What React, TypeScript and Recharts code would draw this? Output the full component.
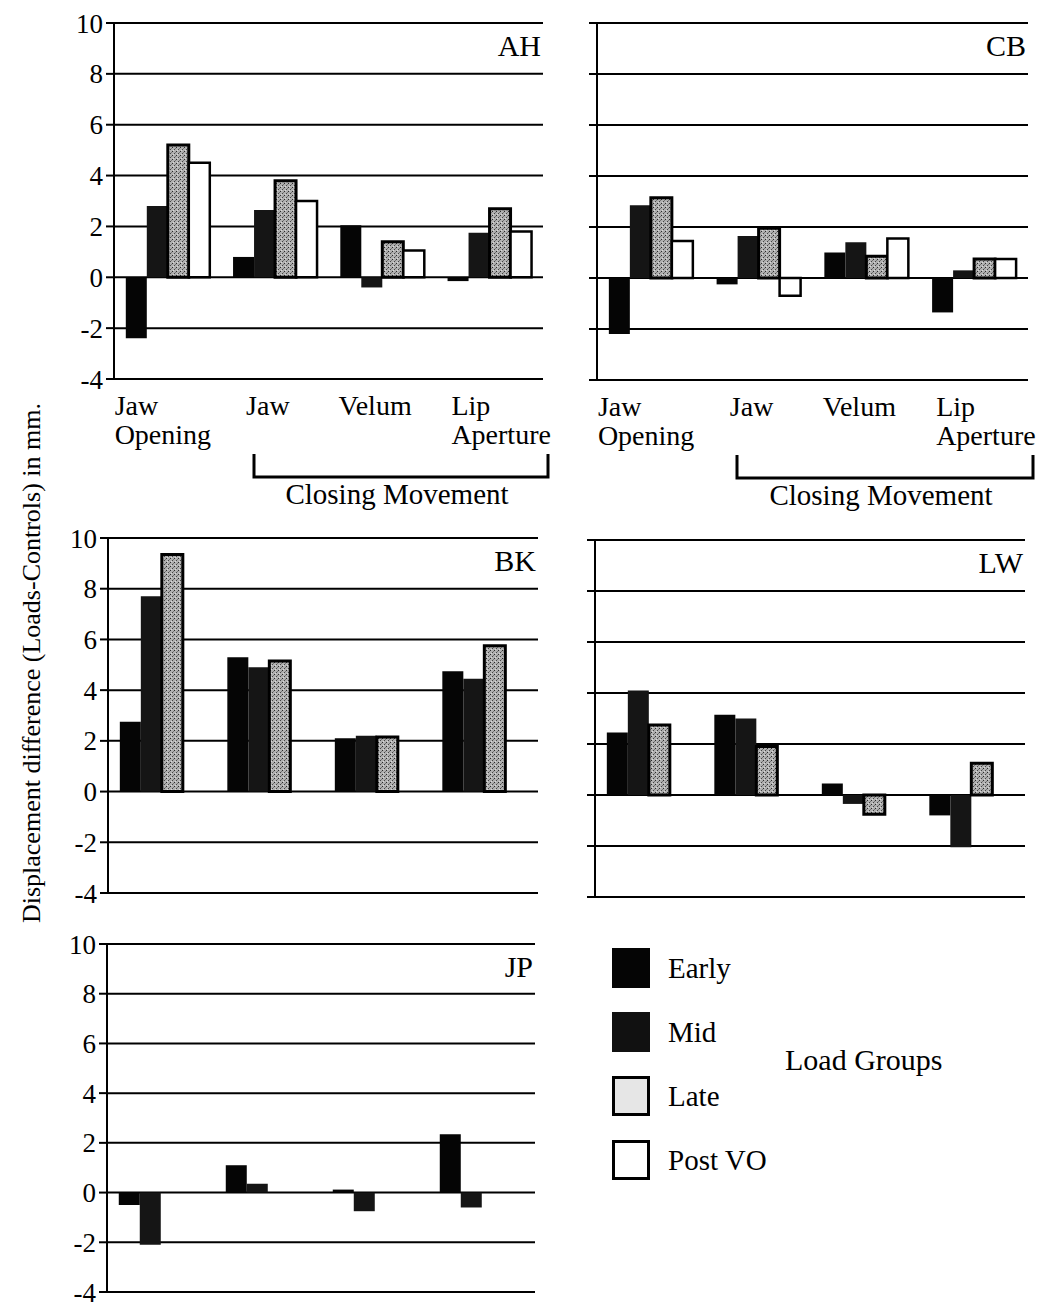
import React from 'react';
import { BarChart, Bar, XAxis, YAxis, CartesianGrid } from 'recharts';

const FONT = "'Liberation Serif', 'Times New Roman', serif";

const CATEGORIES = ['Jaw Opening', 'Jaw', 'Velum', 'Lip Aperture'];
const Y_TICKS = [-4, -2, 0, 2, 4, 6, 8, 10];

// speaker AH
const AH_EARLY = [-2.4, 0.8, 2.05, -0.15];
const AH_MID = [2.8, 2.65, -0.4, 1.75];
const AH_LATE = [5.2, 3.8, 1.4, 2.7];
const AH_POST = [4.5, 3.0, 1.05, 1.8];

// speaker CB
const CB_EARLY = [-2.2, -0.25, 1.0, -1.35];
const CB_MID = [2.85, 1.65, 1.4, 0.3];
const CB_LATE = [3.15, 1.95, 0.85, 0.75];
const CB_POST = [1.45, -0.7, 1.55, 0.75];

// speaker BK (no Post VO)
const BK_EARLY = [2.75, 5.3, 2.1, 4.75];
const BK_MID = [7.7, 4.9, 2.2, 4.45];
const BK_LATE = [9.35, 5.15, 2.15, 5.75];

// speaker LW (no Post VO)
const LW_EARLY = [2.45, 3.15, 0.45, -0.8];
const LW_MID = [4.1, 3.0, -0.35, -2.05];
const LW_LATE = [2.75, 1.9, -0.75, 1.25];

// speaker JP (Early and Mid only)
const JP_EARLY = [-0.5, 1.1, 0.12, 2.35];
const JP_MID = [-2.1, 0.35, -0.75, -0.6];

const SERIES = [
  { key: 'early', label: 'Early' },
  { key: 'mid', label: 'Mid' },
  { key: 'late', label: 'Late' },
  { key: 'post', label: 'Post VO' },
];

const BAR_STYLE: Record<string, any> = {
  early: { fill: '#050505' },
  mid: { fill: '#151515' },
  late: { fill: 'url(#stipple)', stroke: '#000', strokeWidth: 3 },
  post: { fill: '#fff', stroke: '#000', strokeWidth: 2.5 },
};

const SWATCH_STYLE: Record<string, React.CSSProperties> = {
  early: { background: '#050505' },
  mid: { background: '#111' },
  late: { background: '#e6e6e6', border: '3px solid #000' },
  post: { background: '#fff', border: '3px solid #000' },
};

const TICK_ALIGN = [
  { anchor: 'start', dx: -53 },
  { anchor: 'middle', dx: -7 },
  { anchor: 'middle', dx: -7 },
  { anchor: 'start', dx: -38 },
];

const CategoryTick = (props: any) => {
  const { x, y, payload } = props;
  const a = TICK_ALIGN[payload.index] || TICK_ALIGN[1];
  const lines = String(payload.value).split(' ');
  return (
    <text x={x + a.dx} y={y} textAnchor={a.anchor} fontSize={28} fill="#000" fontFamily={FONT}>
      {lines.map((l, i) => (
        <tspan key={i} x={x + a.dx} dy={i === 0 ? 36 : 29}>{l}</tspan>
      ))}
    </text>
  );
};

const EmptyTick = () => <g />;

const Patterns = () => (
  <svg width={0} height={0} style={{ position: 'absolute' }}>
    <defs>
      <pattern id="stipple" width={4} height={4} patternUnits="userSpaceOnUse">
        <rect width={4} height={4} fill="#b0b0b0" />
        <rect x={0} y={0} width={1} height={1} fill="#2a2a2a" />
        <rect x={2} y={2} width={1} height={1} fill="#444" />
        <rect x={3} y={1} width={1} height={1} fill="#777" />
        <rect x={1} y={3} width={1} height={1} fill="#d8d8d8" />
      </pattern>
    </defs>
  </svg>
);

type PanelProps = {
  name: string;
  early: number[];
  mid: number[];
  late?: number[];
  post?: number[];
  plotLeft: number;
  plotTop: number;
  plotRight: number;
  plotBottom: number;
  yLabels?: boolean;
  categories?: boolean;
};

const Panel = ({ name, early, mid, late, post, plotLeft, plotTop, plotRight, plotBottom, yLabels, categories }: PanelProps) => {
  const yW = yLabels ? 114 : 24;
  const xH = categories ? 140 : 0;
  const mTop = 20, mRight = 20, mBottom = 20;
  const plotW = plotRight - plotLeft;
  const plotH = plotBottom - plotTop;
  const width = yW + plotW + mRight;
  const height = mTop + plotH + xH + mBottom;
  const data = CATEGORIES.map((cat, i) => ({
    cat,
    early: early[i],
    mid: mid[i],
    late: late ? late[i] : null,
    post: post ? post[i] : null,
  }));
  const pb = mTop + plotH;
  const bx1 = yW + 140;
  const bx2 = yW + plotW + 5;

  return (
    <div style={{ position: 'absolute', left: plotLeft - yW, top: plotTop - mTop, width, height }}>
      <BarChart width={width} height={height} data={data} margin={{ top: mTop, right: mRight, bottom: mBottom, left: 0 }} barCategoryGap="11%" barGap={0}>
        <CartesianGrid vertical={false} stroke="#000" strokeWidth={2} />
        <XAxis
          dataKey="cat"
          hide={!categories}
          height={xH}
          axisLine={false}
          tickLine={false}
          tickSize={0}
          tickMargin={0}
          interval={0}
          tick={<CategoryTick />}
        />
        <YAxis
          width={yW}
          domain={[-4, 10]}
          ticks={Y_TICKS}
          interval={0}
          allowDataOverflow
          axisLine={{ stroke: '#000', strokeWidth: 2 }}
          tickLine={{ stroke: '#000', strokeWidth: 2 }}
          tickSize={8}
          tickMargin={3}
          tick={yLabels ? { fontSize: 27, fill: '#000', fontFamily: FONT } : <EmptyTick />}
        />
        {SERIES.map((s) => (
          <Bar key={s.key} dataKey={s.key} isAnimationActive={false} {...BAR_STYLE[s.key]} />
        ))}
      </BarChart>
      <div style={{ position: 'absolute', right: mRight + 2, top: mTop + 8, fontSize: 30, lineHeight: '30px' }}>{name}</div>
      {categories && (
        <svg style={{ position: 'absolute', left: 0, top: 0 }} width={width} height={height}>
          <polyline
            points={`${bx1},${pb + 75} ${bx1},${pb + 98} ${bx2},${pb + 98} ${bx2},${pb + 75}`}
            fill="none"
            stroke="#000"
            strokeWidth={3}
          />
          <text x={(bx1 + bx2) / 2 - 4} y={pb + 125} textAnchor="middle" fontSize={29} fontFamily={FONT} fill="#000">
            Closing Movement
          </text>
        </svg>
      )}
    </div>
  );
};

export default function App() {
  return (
    <div style={{ position: 'absolute', left: 0, top: 0, width: 1052, height: 1308, background: '#fff', fontFamily: FONT, color: '#000', overflow: 'hidden' }}>
      <Patterns />
      <Panel name="AH" early={AH_EARLY} mid={AH_MID} late={AH_LATE} post={AH_POST} plotLeft={114} plotTop={23} plotRight={543} plotBottom={379} yLabels categories />
      <Panel name="CB" early={CB_EARLY} mid={CB_MID} late={CB_LATE} post={CB_POST} plotLeft={597} plotTop={23} plotRight={1028} plotBottom={380} categories />
      <Panel name="BK" early={BK_EARLY} mid={BK_MID} late={BK_LATE} plotLeft={108} plotTop={538} plotRight={538} plotBottom={893} yLabels />
      <Panel name="LW" early={LW_EARLY} mid={LW_MID} late={LW_LATE} plotLeft={595} plotTop={540} plotRight={1025} plotBottom={897} />
      <Panel name="JP" early={JP_EARLY} mid={JP_MID} plotLeft={107} plotTop={944} plotRight={535} plotBottom={1292} yLabels />

      <div
        style={{
          position: 'absolute',
          left: 32 - 320,
          top: 663 - 16,
          width: 640,
          height: 32,
          lineHeight: '32px',
          fontSize: 26,
          textAlign: 'center',
          transform: 'rotate(-90deg)',
          whiteSpace: 'nowrap',
        }}
      >
        Displacement difference (Loads-Controls) in mm.
      </div>

      {SERIES.map((s, i) => (
        <div key={s.key} style={{ position: 'absolute', left: 612, top: 948 + i * 64, height: 40, display: 'flex', alignItems: 'center' }}>
          <div style={{ width: 38, height: 40, boxSizing: 'border-box', ...SWATCH_STYLE[s.key] }} />
          <div style={{ marginLeft: 18, fontSize: 29, lineHeight: '40px' }}>{s.label}</div>
        </div>
      ))}
      <div style={{ position: 'absolute', left: 785, top: 1042, fontSize: 30, lineHeight: '36px' }}>Load Groups</div>
    </div>
  );
}
